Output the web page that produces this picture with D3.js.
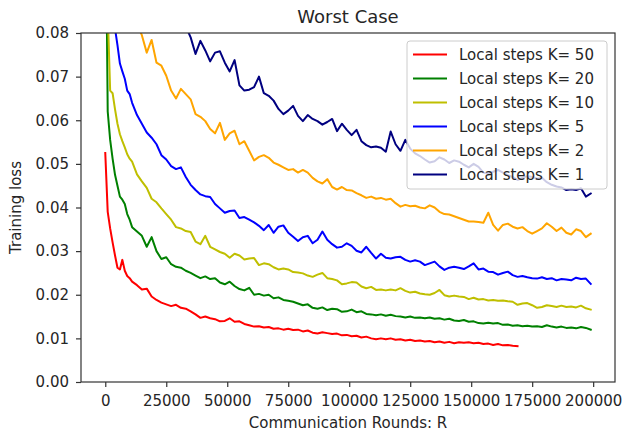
<!DOCTYPE html>
<html><head><meta charset="utf-8">
<script src="https://cdn.jsdelivr.net/npm/d3@7"></script>
<style>
html,body{margin:0;padding:0;background:#fff;}
svg{display:block;font-family:"DejaVu Sans",sans-serif;}
</style></head>
<body><svg id="chart" width="624" height="434"></svg>
<script>
const rounds = [0,1000,2000,3000,4000,5000,6000,7000,8000,9000,
10000,11000,13000,15000,17000,19000,21000,23000,25000,27000,
29000,31000,33000,35000,37000,39000,41000,43000,45000,47000,
49000,51000,53000,55000,57000,59000,61000,63000,65000,67000,
69000,71000,73000,75000,77000,79000,81000,83000,85000,87000,
89000,91000,93000,95000,97000,99000,101000,103000,105000,107000,
109000,111000,113000,115000,117000,119000,121000,123000,125000,127000,
129000,131000,133000,135000,137000,139000,141000,143000,145000,147000,
149000,151000,153000,155000,157000,159000,161000,163000,165000,167000,
169000,171000,173000,175000,177000,179000,181000,183000,185000,187000,
189000,191000,193000,195000,197000,199000];

const lossK50 = [0.0525,0.0390,0.0352,0.0320,0.0290,0.0262,0.0258,0.0280,0.0255,0.0243,
0.0238,0.0230,0.0222,0.0212,0.0214,0.0196,0.0188,0.0182,0.0178,0.0174,
0.0177,0.0170,0.0168,0.0162,0.0155,0.0147,0.0150,0.0146,0.0144,0.0139,
0.0140,0.0146,0.0138,0.0139,0.0133,0.0130,0.0127,0.0128,0.0125,0.0126,
0.0122,0.0123,0.0120,0.0122,0.0119,0.0120,0.0116,0.0118,0.0113,0.0111,
0.0114,0.0112,0.0110,0.0111,0.0107,0.0108,0.0105,0.0106,0.0102,0.0104,
0.0100,0.0098,0.0100,0.0098,0.0100,0.0097,0.0098,0.0095,0.0097,0.0094,
0.0095,0.0093,0.0094,0.0091,0.0093,0.0090,0.0092,0.0089,0.0091,0.0090,
0.0091,0.0089,0.0090,0.0087,0.0088,0.0085,0.0087,0.0084,0.0085,0.0083,
0.0082];

const lossK20 = [0.1200,0.0620,0.0555,0.0512,0.0475,0.0450,0.0425,0.0418,0.0408,0.0385,
0.0372,0.0355,0.0345,0.0335,0.0310,0.0332,0.0300,0.0282,0.0286,0.0270,
0.0264,0.0262,0.0255,0.0250,0.0244,0.0238,0.0242,0.0236,0.0238,0.0228,
0.0224,0.0230,0.0220,0.0213,0.0210,0.0216,0.0200,0.0202,0.0198,0.0200,
0.0192,0.0194,0.0188,0.0186,0.0184,0.0180,0.0176,0.0178,0.0170,0.0168,
0.0171,0.0165,0.0168,0.0167,0.0161,0.0162,0.0166,0.0160,0.0162,0.0156,
0.0155,0.0153,0.0155,0.0152,0.0154,0.0151,0.0150,0.0148,0.0150,0.0147,
0.0148,0.0146,0.0148,0.0145,0.0146,0.0143,0.0145,0.0141,0.0140,0.0142,
0.0138,0.0139,0.0135,0.0134,0.0136,0.0134,0.0135,0.0131,0.0132,0.0129,
0.0130,0.0128,0.0129,0.0127,0.0128,0.0126,0.0130,0.0127,0.0125,0.0127,
0.0124,0.0125,0.0123,0.0126,0.0124,0.0120];

const lossK10 = [0.1600,0.0850,0.0668,0.0662,0.0625,0.0592,0.0568,0.0552,0.0538,0.0522,
0.0512,0.0505,0.0476,0.0460,0.0445,0.0420,0.0412,0.0398,0.0385,0.0372,
0.0355,0.0352,0.0346,0.0344,0.0322,0.0316,0.0335,0.0310,0.0304,0.0298,
0.0294,0.0285,0.0294,0.0290,0.0281,0.0283,0.0284,0.0268,0.0272,0.0270,
0.0263,0.0258,0.0260,0.0258,0.0252,0.0251,0.0249,0.0244,0.0241,0.0246,
0.0250,0.0238,0.0236,0.0233,0.0224,0.0226,0.0229,0.0228,0.0219,0.0215,
0.0218,0.0211,0.0212,0.0210,0.0212,0.0210,0.0215,0.0209,0.0205,0.0207,
0.0203,0.0201,0.0200,0.0204,0.0211,0.0199,0.0196,0.0198,0.0196,0.0195,
0.0190,0.0193,0.0189,0.0190,0.0187,0.0188,0.0186,0.0187,0.0185,0.0184,
0.0177,0.0180,0.0181,0.0176,0.0170,0.0172,0.0176,0.0174,0.0172,0.0175,
0.0172,0.0173,0.0171,0.0175,0.0169,0.0166];

const lossK5 = [0.2000,0.1100,0.0920,0.0850,0.0810,0.0772,0.0730,0.0712,0.0695,0.0668,
0.0660,0.0640,0.0612,0.0592,0.0572,0.0560,0.0545,0.0520,0.0510,0.0495,
0.0488,0.0492,0.0470,0.0452,0.0440,0.0430,0.0426,0.0424,0.0408,0.0398,
0.0388,0.0392,0.0393,0.0376,0.0378,0.0372,0.0366,0.0358,0.0348,0.0360,
0.0342,0.0356,0.0359,0.0342,0.0333,0.0323,0.0332,0.0335,0.0318,0.0326,
0.0345,0.0326,0.0316,0.0308,0.0310,0.0318,0.0312,0.0301,0.0297,0.0310,
0.0296,0.0283,0.0294,0.0285,0.0283,0.0286,0.0287,0.0280,0.0276,0.0279,
0.0276,0.0268,0.0272,0.0276,0.0265,0.0257,0.0262,0.0264,0.0262,0.0259,
0.0265,0.0272,0.0258,0.0260,0.0253,0.0252,0.0246,0.0250,0.0253,0.0245,
0.0241,0.0243,0.0240,0.0238,0.0237,0.0240,0.0236,0.0238,0.0233,0.0236,
0.0235,0.0233,0.0239,0.0236,0.0237,0.0225];

const lossK2 = [0.3000,0.2000,0.1600,0.1400,0.1250,0.1150,0.1070,0.1000,0.0950,0.0910,
0.0880,0.0850,0.0820,0.0795,0.0755,0.0784,0.0732,0.0725,0.0702,0.0668,
0.0650,0.0672,0.0660,0.0648,0.0614,0.0608,0.0598,0.0580,0.0570,0.0594,
0.0555,0.0570,0.0576,0.0545,0.0552,0.0530,0.0508,0.0516,0.0520,0.0514,
0.0503,0.0498,0.0492,0.0486,0.0488,0.0480,0.0486,0.0480,0.0468,0.0460,
0.0455,0.0465,0.0447,0.0441,0.0447,0.0440,0.0439,0.0433,0.0428,0.0422,
0.0425,0.0420,0.0422,0.0418,0.0420,0.0410,0.0402,0.0406,0.0403,0.0404,
0.0400,0.0398,0.0405,0.0400,0.0390,0.0385,0.0384,0.0380,0.0376,0.0372,
0.0368,0.0368,0.0367,0.0365,0.0388,0.0360,0.0347,0.0360,0.0363,0.0356,
0.0352,0.0355,0.0346,0.0340,0.0346,0.0352,0.0364,0.0356,0.0346,0.0354,
0.0342,0.0338,0.0350,0.0346,0.0332,0.0340];

const lossK1 = [0.5000,0.3500,0.2800,0.2400,0.2100,0.1900,0.1750,0.1630,0.1530,0.1450,
0.1380,0.1320,0.1220,0.1140,0.1070,0.1010,0.0970,0.0930,0.0900,0.0870,
0.0850,0.0830,0.0815,0.0790,0.0752,0.0782,0.0760,0.0735,0.0755,0.0758,
0.0732,0.0712,0.0738,0.0680,0.0668,0.0670,0.0676,0.0700,0.0662,0.0656,
0.0645,0.0626,0.0614,0.0622,0.0633,0.0610,0.0598,0.0612,0.0603,0.0598,
0.0590,0.0596,0.0603,0.0575,0.0592,0.0578,0.0566,0.0578,0.0552,0.0543,
0.0538,0.0540,0.0537,0.0528,0.0574,0.0545,0.0530,0.0555,0.0535,0.0524,
0.0518,0.0510,0.0503,0.0506,0.0515,0.0510,0.0502,0.0508,0.0505,0.0498,
0.0492,0.0500,0.0493,0.0480,0.0477,0.0482,0.0486,0.0480,0.0474,0.0470,
0.0463,0.0468,0.0472,0.0470,0.0466,0.0468,0.0458,0.0452,0.0448,0.0446,
0.0440,0.0442,0.0440,0.0444,0.0425,0.0432];

const seriesLabels = ["Local steps K= 50","Local steps K= 20","Local steps K= 10","Local steps K= 5","Local steps K= 2","Local steps K= 1"];
const seriesValues = [lossK50, lossK20, lossK10, lossK5, lossK2, lossK1];
const seriesColors = ["#ff0000","#008000","#bfbf00","#0000ff","#ffa500","#000080"];
const xTicks = [0,25000,50000,75000,100000,125000,150000,175000,200000];
const yTicks = [0.00,0.01,0.02,0.03,0.04,0.05,0.06,0.07,0.08];

const L = 81, R = 615, T = 33, B = 382;
const svg = d3.select("#chart");
const x = d3.scaleLinear().domain([-9950, 208950]).range([L, R]);
const y = d3.scaleLinear().domain([0, 0.08]).range([B, T]);
const textColor = "#262626";

svg.append("defs").append("clipPath").attr("id","clip")
  .append("rect").attr("x",L).attr("y",T).attr("width",R-L).attr("height",B-T);

const line = d3.line().x(d => x(d[0])).y(d => y(d[1]));
const plot = svg.append("g").attr("clip-path","url(#clip)");
seriesValues.forEach((vals, i) => {
  const pts = vals.map((v, j) => [rounds[j], v]);
  plot.append("path").datum(pts).attr("d", line)
    .attr("fill","none").attr("stroke", seriesColors[i])
    .attr("stroke-width", 2).attr("stroke-linejoin","round").attr("stroke-linecap","square");
});

// axes
const xAxis = d3.axisBottom(x).tickValues(xTicks).tickFormat(d3.format("d")).tickSizeOuter(0).tickSize(5).tickPadding(8);
const gx = svg.append("g").attr("transform", `translate(0,${B})`).call(xAxis);
const yAxis = d3.axisLeft(y).tickValues(yTicks).tickFormat(d3.format(".2f")).tickSizeOuter(0).tickSize(5).tickPadding(7);
const gy = svg.append("g").attr("transform", `translate(${L},0)`).call(yAxis);
[gx, gy].forEach(g => {
  g.select(".domain").remove();
  g.selectAll(".tick line").attr("stroke", "#333").attr("stroke-width", 1.2);
  g.selectAll(".tick text").attr("fill", textColor).style("font-size","15px").style("font-family","DejaVu Sans");
});

svg.append("rect").attr("x",L).attr("y",T).attr("width",R-L).attr("height",B-T)
  .attr("fill","none").attr("stroke","#333").attr("stroke-width",1.2);

// title and labels
svg.append("text").attr("x",(L+R)/2).attr("y",23).attr("text-anchor","middle")
  .attr("fill",textColor).style("font-size","18px").text("Worst Case");
svg.append("text").attr("x",(L+R)/2).attr("y",428).attr("text-anchor","middle")
  .attr("fill",textColor).style("font-size","15px").text("Communication Rounds: R");
svg.append("text").attr("transform",`translate(21,${(T+B)/2}) rotate(-90)`).attr("text-anchor","middle")
  .attr("fill",textColor).style("font-size","15px").text("Training loss");

// legend
const lg = svg.append("g");
lg.append("rect").attr("x",407).attr("y",41).attr("width",200).attr("height",148).attr("rx",3)
  .attr("fill","#fff").attr("fill-opacity",0.8).attr("stroke","#cccccc").attr("stroke-width",1);
seriesLabels.forEach((lab, i) => {
  const yy = 54.5 + i * 24;
  lg.append("line").attr("x1",413).attr("x2",447).attr("y1",yy).attr("y2",yy)
    .attr("stroke",seriesColors[i]).attr("stroke-width",2);
  lg.append("text").attr("x",459).attr("y",yy).attr("dy","0.35em")
    .attr("fill",textColor).style("font-size","15px").text(lab);
});
</script></body></html>
